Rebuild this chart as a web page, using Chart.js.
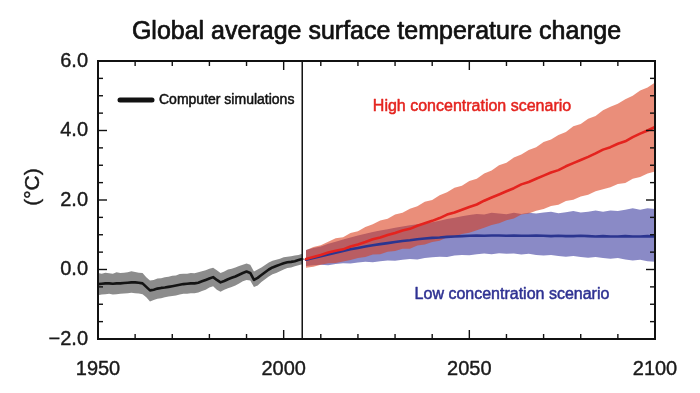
<!DOCTYPE html>
<html><head><meta charset="utf-8">
<script src="https://cdn.jsdelivr.net/npm/chart.js@4/dist/chart.umd.min.js"></script>
<style>html,body{margin:0;padding:0;background:#fff}</style>
</head><body>
<canvas id="c" width="700" height="393"></canvas>
<script>
// ---------- DATA ----------
const chartTitle = 'Global average surface temperature change';
const yAxisTitle = '(°C)';
const legendLabel = 'Computer simulations';
const highLabel = 'High concentration scenario';
const lowLabel = 'Low concentration scenario';

const histYears = [1950,1951,1952,1953,1954,1955,1956,1957,1958,1959,1960,1961,1962,1963,1964,1965,1966,1967,1968,1969,1970,1971,1972,1973,1974,1975,1976,1977,1978,1979,1980,1981,1982,1983,1984,1985,1986,1987,1988,1989,1990,1991,1992,1993,1994,1995,1996,1997,1998,1999,2000,2001,2002,2003,2004,2005];
const histMean = [-0.42,-0.41,-0.40,-0.40,-0.41,-0.40,-0.40,-0.39,-0.38,-0.37,-0.37,-0.38,-0.40,-0.50,-0.60,-0.58,-0.55,-0.53,-0.52,-0.50,-0.48,-0.46,-0.44,-0.42,-0.41,-0.40,-0.40,-0.38,-0.34,-0.30,-0.26,-0.22,-0.30,-0.37,-0.33,-0.28,-0.24,-0.20,-0.15,-0.10,-0.06,-0.10,-0.30,-0.24,-0.16,-0.08,0.00,0.06,0.10,0.14,0.18,0.21,0.22,0.24,0.27,0.30];
const histUpper = [-0.10,-0.12,-0.09,-0.11,-0.12,-0.08,-0.10,-0.09,-0.08,-0.05,-0.07,-0.09,-0.10,-0.22,-0.32,-0.30,-0.26,-0.25,-0.22,-0.21,-0.18,-0.17,-0.13,-0.12,-0.12,-0.10,-0.11,-0.08,-0.05,-0.02,0.02,0.05,-0.02,-0.10,-0.06,0.00,0.02,0.06,0.10,0.14,0.17,0.14,-0.06,0.00,0.06,0.13,0.20,0.25,0.28,0.31,0.35,0.37,0.38,0.40,0.42,0.45];
const histLower = [-0.74,-0.72,-0.71,-0.70,-0.72,-0.71,-0.70,-0.69,-0.68,-0.67,-0.68,-0.69,-0.71,-0.80,-0.92,-0.88,-0.84,-0.83,-0.80,-0.78,-0.76,-0.75,-0.72,-0.70,-0.70,-0.68,-0.68,-0.66,-0.62,-0.58,-0.52,-0.48,-0.58,-0.64,-0.58,-0.54,-0.50,-0.46,-0.40,-0.34,-0.30,-0.32,-0.50,-0.46,-0.36,-0.28,-0.20,-0.14,-0.10,-0.05,0.00,0.04,0.06,0.09,0.12,0.15];

const projYears = [2006,2008,2010,2012,2014,2016,2018,2020,2022,2024,2026,2028,2030,2032,2034,2036,2038,2040,2042,2044,2046,2048,2050,2052,2054,2056,2058,2060,2062,2064,2066,2068,2070,2072,2074,2076,2078,2080,2082,2084,2086,2088,2090,2092,2094,2096,2098,2100];
const highMean = [0.30,0.36,0.42,0.49,0.54,0.58,0.66,0.72,0.79,0.87,0.92,0.99,1.05,1.12,1.17,1.26,1.33,1.40,1.48,1.58,1.64,1.72,1.80,1.87,1.98,2.07,2.16,2.25,2.34,2.45,2.52,2.61,2.70,2.79,2.86,2.97,3.06,3.15,3.24,3.34,3.45,3.52,3.62,3.69,3.81,3.91,4.00,4.10];
const highUpper = [0.55,0.65,0.70,0.80,0.90,0.93,1.05,1.10,1.22,1.30,1.41,1.46,1.58,1.63,1.75,1.82,1.95,2.00,2.14,2.22,2.35,2.41,2.55,2.61,2.76,2.85,3.00,3.07,3.22,3.31,3.44,3.52,3.67,3.74,3.87,3.96,4.12,4.19,4.34,4.42,4.58,4.68,4.77,4.90,5.00,5.15,5.24,5.38];
const highLower = [0.05,0.08,0.14,0.18,0.19,0.23,0.27,0.33,0.36,0.43,0.44,0.51,0.53,0.60,0.60,0.69,0.72,0.79,0.83,0.93,0.94,1.02,1.06,1.13,1.20,1.28,1.33,1.42,1.47,1.58,1.61,1.69,1.74,1.83,1.86,1.97,2.01,2.10,2.15,2.25,2.31,2.37,2.46,2.49,2.61,2.66,2.76,2.82];
const lowMean = [0.28,0.33,0.38,0.43,0.48,0.53,0.58,0.62,0.66,0.70,0.73,0.76,0.79,0.82,0.84,0.87,0.89,0.91,0.92,0.94,0.95,0.96,0.97,0.98,0.97,0.98,0.98,0.97,0.98,0.97,0.97,0.98,0.97,0.96,0.97,0.96,0.96,0.97,0.96,0.95,0.96,0.95,0.95,0.96,0.95,0.95,0.96,0.95];
const lowUpper = [0.56,0.62,0.66,0.74,0.80,0.86,0.92,0.98,1.03,1.08,1.12,1.16,1.20,1.24,1.27,1.30,1.33,1.36,1.40,1.45,1.49,1.53,1.57,1.60,1.58,1.63,1.61,1.59,1.63,1.60,1.63,1.61,1.64,1.66,1.62,1.65,1.68,1.64,1.66,1.70,1.66,1.70,1.68,1.72,1.76,1.72,1.76,1.74];
const lowLower = [0.10,0.12,0.14,0.12,0.16,0.18,0.17,0.20,0.22,0.21,0.24,0.26,0.25,0.28,0.30,0.29,0.33,0.35,0.37,0.36,0.40,0.42,0.41,0.44,0.46,0.44,0.47,0.45,0.46,0.43,0.45,0.42,0.40,0.42,0.39,0.37,0.39,0.36,0.34,0.36,0.33,0.31,0.33,0.29,0.26,0.28,0.24,0.22];

const dividerYear = 2005;
const xTickValues = [1950,2000,2050,2100];
const xTickLabels = ['1950','2000','2050','2100'];
const xMinorTicks = [1960,1970,1980,1990,2010,2020,2030,2040,2060,2070,2080,2090];
const yTickValues = [6,4,2,0,-2];
const yTickLabels = ['6.0','4.0','2.0','0.0','\u22122.0'];
const yMinorTicks = [5.5,5,4.5,3.5,3,2.5,1.5,1,0.5,-0.5,-1,-1.5];

// ---------- helpers ----------
const pts = (xs, ys) => xs.map((x, i) => ({x, y: ys[i]}));
const FONT = '"Liberation Sans", Arial, Helvetica, sans-serif';

function heavyText(ctx, txt, x, y, w) {
  ctx.lineWidth = w;
  ctx.strokeStyle = ctx.fillStyle;
  ctx.lineJoin = 'round';
  ctx.strokeText(txt, x, y);
  ctx.fillText(txt, x, y);
}

const deco = {
  id: 'deco',
  afterDatasetsDraw(chart) {
    const {ctx, chartArea: a, scales: {x, y}} = chart;
    ctx.save();
    // divider
    ctx.strokeStyle = '#111';
    ctx.lineWidth = 1.5;
    const dx = x.getPixelForValue(dividerYear);
    ctx.beginPath(); ctx.moveTo(dx, a.top); ctx.lineTo(dx, a.bottom); ctx.stroke();
    // ticks (inward on all four sides)
    ctx.lineWidth = 1.4;
    const tick = (x1, y1, x2, y2) => { ctx.beginPath(); ctx.moveTo(x1, y1); ctx.lineTo(x2, y2); ctx.stroke(); };
    const MAJ = 9, MIN = 5;
    yTickValues.forEach(v => { const p = y.getPixelForValue(v); tick(a.left, p, a.left + MAJ, p); tick(a.right, p, a.right - MAJ, p); });
    yMinorTicks.forEach(v => { const p = y.getPixelForValue(v); tick(a.left, p, a.left + MIN, p); tick(a.right, p, a.right - MIN, p); });
    xTickValues.forEach(v => { const p = x.getPixelForValue(v); tick(p, a.bottom, p, a.bottom - MAJ); tick(p, a.top, p, a.top + MAJ); });
    xMinorTicks.forEach(v => { const p = x.getPixelForValue(v); tick(p, a.bottom, p, a.bottom - MIN); tick(p, a.top, p, a.top + MIN); });
    // frame
    ctx.lineWidth = 2;
    ctx.strokeRect(a.left, a.top, a.right - a.left, a.bottom - a.top);
    // tick labels
    ctx.fillStyle = '#1a1a1a';
    ctx.font = '20px ' + FONT;
    ctx.textAlign = 'right'; ctx.textBaseline = 'middle';
    yTickValues.forEach((v, i) => heavyText(ctx, yTickLabels[i], a.left - 10, y.getPixelForValue(v), 0.4));
    ctx.textAlign = 'center'; ctx.textBaseline = 'middle';
    xTickValues.forEach((v, i) => heavyText(ctx, xTickLabels[i], x.getPixelForValue(v), a.bottom + 30, 0.4));
    // y axis title
    ctx.save();
    ctx.translate(33, 187);
    ctx.rotate(-Math.PI / 2);
    ctx.font = '21px ' + FONT;
    heavyText(ctx, yAxisTitle, 0, 0, 0.4);
    ctx.restore();
    // title
    ctx.font = '25px ' + FONT;
    ctx.fillStyle = '#111';
    heavyText(ctx, chartTitle, (a.left + a.right) / 2, 32, 0.7);
    // legend
    ctx.strokeStyle = '#111'; ctx.lineWidth = 5; ctx.lineCap = 'round';
    tick(a.left + 22, 100, a.left + 54, 100);
    ctx.lineCap = 'butt';
    ctx.font = '14px ' + FONT;
    ctx.textAlign = 'left';
    heavyText(ctx, legendLabel, a.left + 61, 100, 0.5);
    // scenario labels
    ctx.font = '16px ' + FONT;
    ctx.textAlign = 'center';
    ctx.fillStyle = '#e4231e';
    heavyText(ctx, highLabel, 472, 107, 0.5);
    ctx.fillStyle = '#2e3192';
    heavyText(ctx, lowLabel, 512, 295, 0.5);
    ctx.restore();
  }
};

const band = (data, color, ord, fill) => ({
  data, borderWidth: 0, pointRadius: 0, backgroundColor: color, fill: fill, order: ord, tension: 0
});
const line = (data, color, ord) => ({
  data, borderColor: color, borderWidth: 2.6, pointRadius: 0, fill: false, order: ord, tension: 0,
  borderJoinStyle: 'round', borderCapStyle: 'round'
});

new Chart(document.getElementById('c'), {
  type: 'line',
  data: {
    datasets: [
      band(pts(histYears, histUpper), '#8c8c8c', 10, '+1'),
      band(pts(histYears, histLower), '#8c8c8c', 10, false),
      band(pts(projYears, lowUpper), 'rgb(138,138,198)', 9, '+1'),
      band(pts(projYears, lowLower), 'rgb(138,138,198)', 9, false),
      band(pts(projYears, highUpper), 'rgba(218,60,25,0.58)', 8, '+1'),
      band(pts(projYears, highLower), 'rgba(218,60,25,0.58)', 8, false),
      line(pts(histYears, histMean), '#141414', 3),
      line(pts(projYears, lowMean), '#2b3590', 2),
      line(pts(projYears, highMean), '#e4231e', 1)
    ]
  },
  options: {
    responsive: false,
    animation: false,
    devicePixelRatio: 1,
    layout: {padding: {left: 98, right: 45, top: 61, bottom: 54}},
    plugins: {legend: {display: false}, tooltip: {enabled: false}, title: {display: false}},
    scales: {
      x: {type: 'linear', min: 1950, max: 2100, display: false},
      y: {type: 'linear', min: -2, max: 6, display: false}
    }
  },
  plugins: [deco]
});
</script>
</body></html>
